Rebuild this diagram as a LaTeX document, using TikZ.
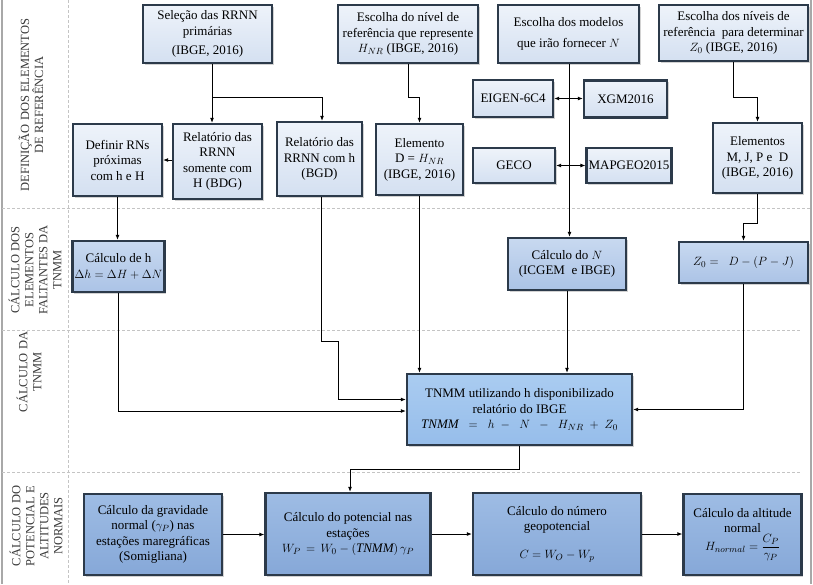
\documentclass[tikz,border=0pt]{standalone}
\usepackage{fontspec}
\setmainfont{Liberation Serif}
\usepackage{amsmath}
\usetikzlibrary{calc,shadows,arrows.meta}
\definecolor{bd}{HTML}{2C3A4A}
\definecolor{atop}{HTML}{EEF3FA}
\definecolor{abot}{HTML}{D4E0F1}
\definecolor{btop}{HTML}{C8D9F0}
\definecolor{bbot}{HTML}{ABC3E6}
\definecolor{ttop}{HTML}{AACCF1}
\definecolor{tbot}{HTML}{96BDEA}
\definecolor{ctop}{HTML}{9EBCE4}
\definecolor{cbot}{HTML}{86A8D8}
\definecolor{gridc}{HTML}{C4C4C4}
\definecolor{framec}{HTML}{A8A8A8}
\definecolor{sidetxt}{HTML}{3A3A3A}
\begin{document}
\begin{tikzpicture}[x=1pt,y=-1pt,
  box/.style={draw=bd, line width=2.3pt, align=center, inner sep=2pt, text=black,
    font=\fontsize{13}{15.5}\selectfont,
    drop shadow={shadow xshift=1.6pt, shadow yshift=-1.6pt, opacity=0.35}},
  abox/.style={box, top color=atop, bottom color=abot},
  bbox/.style={box, top color=btop, bottom color=bbot},
  tbox/.style={box, top color=ttop, bottom color=tbot},
  cbox/.style={box, top color=ctop, bottom color=cbot},
  side/.style={rotate=90, align=center, text=sidetxt, inner sep=0pt,
    font=\fontsize{12.5}{14}\selectfont},
  arr/.style={-{Latex[length=5pt,width=4pt]}, line width=0.9pt},
  biarr/.style={{Latex[length=5pt,width=4pt]}-{Latex[length=5pt,width=4pt]}, line width=0.9pt},
  ln/.style={line width=0.9pt},
  grid/.style={draw=gridc, line width=0.8pt, dash pattern=on 3pt off 2pt},
]
\fill[white] (0,0) rectangle (813,584);
\useasboundingbox (0,0) rectangle (813,584);

% frame and section lines
\draw[framec, line width=1.4pt] (2,0) -- (2,584);
\draw[framec, line width=1.4pt] (811,0) -- (811,584);
\draw[grid] (68,0) -- (68,584);
\draw[grid] (2,208) -- (811,208);
\draw[grid] (2,330) -- (800,330);
\draw[grid] (2,472) -- (800,472);

% side labels
\node[side] (s1) at (31,105) {DEFINIÇÃO DOS ELEMENTOS\\DE REFERÊNCIA};
\node[side] (s2) at (35,270) {CÁLCULO DOS\\ELEMENTOS\\FALTANTES DA\\TNMM};
\node[side] (s3) at (29,372) {CÁLCULO DA\\TNMM};
\node[side] (s4) at (36,526) {CÁLCULO DO\\POTENCIAL E\\ALTITUDES\\NORMAIS};

% row 1
\node[abox, minimum width=129, minimum height=58] (sel) at (207.5,34)
  {Seleção das RRNN\\primárias\\[4pt](IBGE, 2016)};
\node[abox, minimum width=140, minimum height=58] (nivel) at (408,34)
  {Escolha do nível de\\referência que represente\\$H_{NR}$ (IBGE, 2016)};
\node[abox, minimum width=141, minimum height=58] (modelos) at (568.5,34)
  {Escolha dos modelos\\[6pt]que irão fornecer $N$};
\node[abox, minimum width=149, minimum height=56] (niveis) at (733.5,33)
  {Escolha dos níveis de\\referência\ \ para determinar\\$Z_0$ (IBGE, 2016)};

\node[abox, minimum width=80, minimum height=37] (eigen) at (513,98.5) {EIGEN-6C4};
\node[abox, minimum width=83, minimum height=37] (xgm) at (625.5,99) {XGM2016};
\node[abox, minimum width=82, minimum height=35] (geco) at (514,165.5) {GECO};
\node[abox, minimum width=83, minimum height=35] (mapgeo) at (629,165.5) {MAPGEO2015};

\node[abox, minimum width=89, minimum height=72] (defin) at (117.5,160)
  {Definir RNs\\próximas\\com h e H};
\node[abox, minimum width=89, minimum height=75] (relH) at (217.5,161.5)
  {Relatório das\\RRNN\\somente com\\H (BDG)};
\node[abox, minimum width=85, minimum height=74] (relh) at (319.5,159)
  {Relatório das\\RRNN com h\\(BGD)};
\node[abox, minimum width=87, minimum height=71] (elemD) at (419.5,159.5)
  {Elemento\\D = $H_{NR}$\\(IBGE, 2016)};
\node[abox, minimum width=89, minimum height=70] (elemM) at (757.5,158)
  {Elementos\\M, J, P e\ \ D\\(IBGE, 2016)};

% row 2
\node[bbox, minimum width=91, minimum height=51] (calch) at (118.5,266.5)
  {Cálculo de h\\$\Delta h = \Delta H + \Delta N$};
\node[bbox, minimum width=118, minimum height=52] (calcN) at (567,264)
  {Cálculo do $N$\\(ICGEM\ \ e IBGE)};
\node[bbox, minimum width=129, minimum height=41] (z0) at (743.5,262.5)
  {$Z_0 =\;\; D - (P - J)$};

% row 3
\node[tbox, minimum width=225, minimum height=71] (tnmm) at (519.5,409.5)
  {TNMM utilizando h disponibilizado\\relatório do IBGE\\$\mathit{TNMM}\;\;=\;\;h\;-\;\;N\;\;-\;\;H_{NR}\;+\;Z_0$};

% row 4
\node[cbox, minimum width=138, minimum height=81] (b1) at (153,534.5)
  {Cálculo da gravidade\\normal ($\gamma_P$) nas\\estações maregráficas\\(Somigliana)};
\node[cbox, minimum width=165, minimum height=82] (b2) at (348,534)
  {Cálculo do potencial nas\\estações\\$W_P\,=\,W_0-(\mathit{TNMM})\,\gamma_P$};
\node[cbox, minimum width=168, minimum height=82] (b3) at (557,534)
  {Cálculo do número\\geopotencial\\[12pt]$C = W_O - W_p$};
\node[cbox, minimum width=118, minimum height=81] (b4) at (742.5,534.5)
  {Cálculo da altitude\\normal\\$H_{normal} = \dfrac{C_P}{\gamma_P}$};

% connectors row 1
\coordinate (j1) at ($(sel.south)+(4.5,33)$);
\draw[ln] (sel.south -| j1) -- (j1);
\draw[arr] (j1) -- (j1 |- relH.north);
\draw[arr] (j1) -| ($(relh.north)+(2.5,0)$);
\draw[arr] (defin.east -| relH.west) -- (defin.east);
\draw[arr] (nivel.south) -- ++(0,33) -| (elemD.north);
\draw[arr] (niveis.south) -- ++(0,35) -| (elemM.north);
\draw[arr] ($(modelos.south)+(1,0)$) -- ($(calcN.north)+(2.5,0)$);
\draw[biarr] (eigen.east) -- (eigen.east -| xgm.west);
\draw[biarr] (geco.east) -- (geco.east -| mapgeo.west);

% row 2
\draw[arr] (defin.south) -- (defin.south |- calch.north);
\draw[arr] (elemM.south) -- ++(0,29) -| (z0.north);

% to TNMM
\draw[arr] (calch.south) |- ($(tnmm.west)+(0,1.5)$);
\coordinate (k) at ($(relh.south)+(18.5,144)$);
\draw[arr] ($(relh.south)+(1.5,0)$) |- (k) |- ($(tnmm.west)+(0,-10)$);
\draw[arr] (elemD.south) -- (elemD.south |- tnmm.north);
\draw[arr] (calcN.south) -- (calcN.south |- tnmm.north);
\draw[arr] (z0.south) |- (tnmm.east);

% to row 4
\draw[arr] (tnmm.south) -- ++(0,23) -| ($(b2.north)+(2,0)$);
\draw[arr] (b1.east) -- (b1.east -| b2.west);
\draw[arr] (b2.east) -- (b2.east -| b3.west);
\draw[arr] (b3.east) -- (b3.east -| b4.west);
\end{tikzpicture}
\end{document}
